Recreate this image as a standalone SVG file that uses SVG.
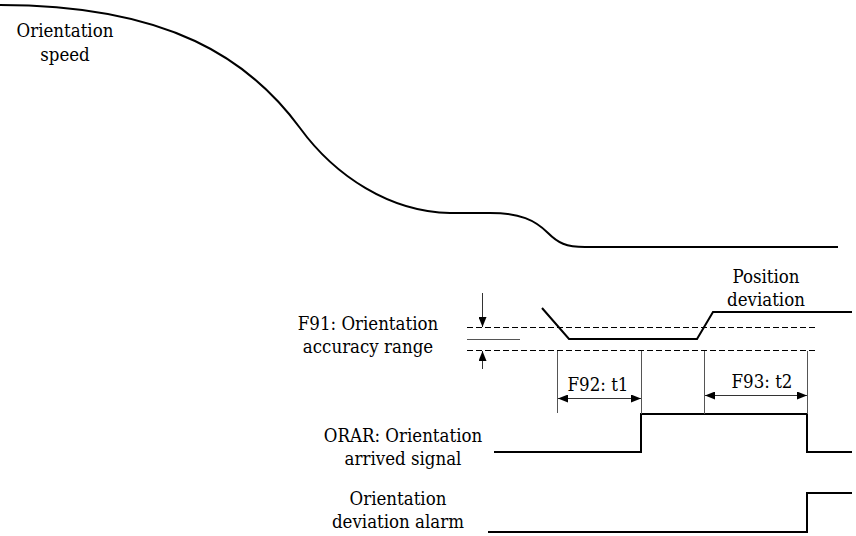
<svg xmlns="http://www.w3.org/2000/svg" width="856" height="536" viewBox="0 0 856 536">
  <style>
    text { font-family: "DejaVu Serif Condensed", "DejaVu Serif", serif; font-stretch: condensed; font-size: 18.5px; fill: #000; text-anchor: middle; }
    .wave { fill: none; stroke: #000; stroke-width: 2; stroke-linejoin: miter; }
    .thin { fill: none; stroke: #555; stroke-width: 1; }
    .dash { fill: none; stroke: #000; stroke-width: 1; stroke-dasharray: 6 3; }
    .dim { fill: none; stroke: #333; stroke-width: 1; }
  </style>
  <defs>
    <marker id="ah" viewBox="0 0 10 8" refX="10" refY="4" markerWidth="10" markerHeight="8" markerUnits="userSpaceOnUse" orient="auto-start-reverse">
      <path d="M0,0 L10,4 L0,8 Z" fill="#000"/>
    </marker>
  </defs>
  <rect width="856" height="536" fill="#fff"/>

  <!-- spindle speed while orienting -->
  <g id="speed">
    <path class="wave" d="M0,5 C170,5 250,60 300,128 C335,176 390,212 450,213 L490,213 C520,213 535,220 548,233 C558,243 566,247 585,247 L838,247"/>
    <text x="65" y="37">Orientation</text>
    <text x="65" y="61">speed</text>
  </g>

  <!-- accuracy band -->
  <g id="accuracy-band">
    <line class="dash" x1="467" y1="327.5" x2="815" y2="327.5"/>
    <line class="dash" x1="467" y1="350.5" x2="815" y2="350.5"/>
    <line class="thin" x1="467" y1="339.5" x2="520" y2="339.5"/>
    <text x="368" y="330">F91: Orientation</text>
    <text x="368" y="353">accuracy range</text>
  </g>

  <!-- position deviation -->
  <g id="position-deviation">
    <path class="wave" d="M542,308 L569,339 L697,339 L713,312 L852,312"/>
    <text x="766" y="283">Position</text>
    <text x="766" y="306">deviation</text>
  </g>

  <!-- orientation arrived signal -->
  <g id="orar">
    <path class="wave" d="M494,452 L641,452 L641,414 L807,414 L807,452 L852,452"/>
    <text x="403" y="442">ORAR: Orientation</text>
    <text x="403" y="465">arrived signal</text>
  </g>

  <!-- orientation deviation alarm -->
  <g id="alarm">
    <path class="wave" d="M488,532 L807,532 L807,493 L852,493"/>
    <text x="398" y="505">Orientation</text>
    <text x="398" y="528">deviation alarm</text>
  </g>

  <!-- timing labels -->
  <g id="timers">
    <text x="598" y="391">F92: t1</text>
    <text x="762" y="388">F93: t2</text>
  </g>

  <!-- dimension lines and arrows -->
  <g id="connectors">
    <line class="dim" x1="482.5" y1="293" x2="482.5" y2="327" marker-end="url(#ah)"/>
    <line class="dim" x1="482.5" y1="369" x2="482.5" y2="351" marker-end="url(#ah)"/>
    <line class="thin" x1="557.5" y1="351" x2="557.5" y2="413"/>
    <line class="thin" x1="641.5" y1="351" x2="641.5" y2="414"/>
    <line class="thin" x1="704.5" y1="351" x2="704.5" y2="414"/>
    <line class="thin" x1="807.5" y1="351" x2="807.5" y2="414"/>
    <line class="dim" x1="558" y1="398.5" x2="641" y2="398.5" marker-start="url(#ah)" marker-end="url(#ah)"/>
    <line class="dim" x1="705" y1="395.5" x2="807" y2="395.5" marker-start="url(#ah)" marker-end="url(#ah)"/>
  </g>
</svg>
